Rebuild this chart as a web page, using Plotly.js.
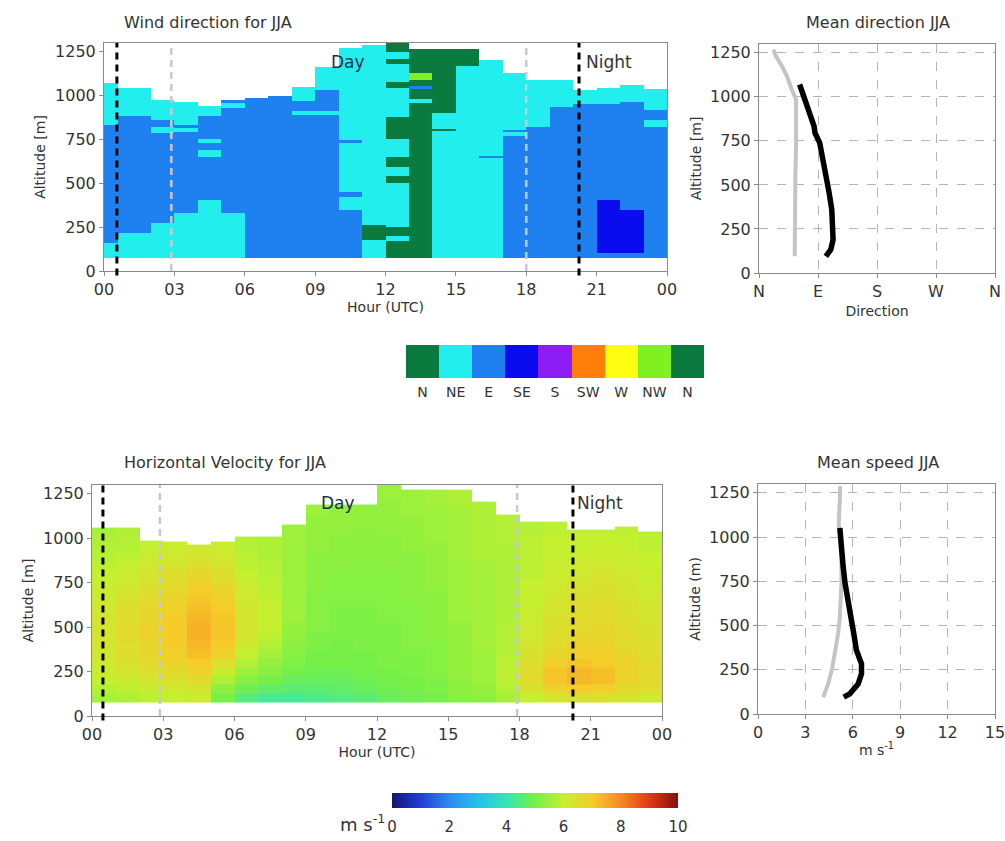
<!DOCTYPE html>
<html><head><meta charset="utf-8">
<script src="https://cdn.plot.ly/plotly-3.0.1.min.js"></script>
<style>html,body{margin:0;padding:0;background:#fff}</style>
</head><body><div id="chart" style="width:1005px;height:841px"></div>
<script>
// ---------- Wind direction categories ----------
const dirNames = ['N','NE','E','SE','S','SW','W','NW','N'];
const dirColors = ['#0b7a3e','#22eeee','#1f80f0','#0a0cf0','#8c1cf2','#ff7f0a','#ffff14','#80f020','#0b7a3e'];

// hour bins of the direction panel
const dirHourEdges = [0,0.6,2,3,4,5,6,7,8,9,10,11,12,13,14,15,16,17,18,19,20,21,22,23,24];
// per hour bin: [bottom altitude, top altitude, direction class]
const dirSegments = [
 [[75,160,'NE'],[160,833,'E'],[833,1071,'NE']],
 [[75,217,'NE'],[217,881,'E'],[881,1043,'NE']],
 [[75,274,'NE'],[274,786,'E'],[786,822,'NE'],[822,862,'E'],[862,976,'NE']],
 [[75,331,'NE'],[331,790,'E'],[790,815,'NE'],[815,835,'E'],[835,966,'NE']],
 [[75,405,'NE'],[405,650,'E'],[650,690,'NE'],[690,730,'E'],[730,750,'NE'],[750,881,'E'],[881,938,'NE']],
 [[75,331,'NE'],[331,930,'E'],[930,960,'NE'],[960,976,'E']],
 [[75,986,'E']],
 [[75,999,'E']],
 [[75,890,'E'],[890,915,'NE'],[915,970,'E'],[970,1052,'NE']],
 [[75,890,'E'],[890,915,'NE'],[915,1033,'E'],[1033,1166,'NE']],
 [[75,350,'E'],[350,420,'NE'],[420,450,'E'],[450,730,'NE'],[730,745,'E'],[745,1273,'NE']],
 [[75,177,'NE'],[177,263,'N'],[263,1290,'NE']],
 [[75,170,'N'],[170,200,'NE'],[200,250,'N'],[250,500,'NE'],[500,540,'N'],[540,595,'NE'],[595,650,'N'],[650,750,'NE'],[750,880,'N'],[880,1045,'NE'],[1045,1080,'N'],[1080,1180,'NE'],[1180,1210,'N'],[1210,1250,'NE'],[1250,1300,'N']],
 [[75,960,'N'],[960,980,'NE'],[980,1040,'N'],[1040,1055,'E'],[1055,1090,'N'],[1090,1128,'NW'],[1128,1265,'N']],
 [[75,798,'NE'],[798,810,'N'],[810,900,'NE'],[900,1265,'N']],
 [[75,1170,'NE'],[1170,1265,'N']],
 [[75,645,'NE'],[645,658,'E'],[658,1204,'NE']],
 [[75,770,'E'],[770,790,'NE'],[790,805,'E'],[805,1128,'NE']],
 [[75,822,'E'],[822,1090,'NE']],
 [[75,936,'E'],[936,1090,'NE']],
 [[75,950,'E'],[950,1033,'NE']],
 [[75,100,'E'],[100,405,'SE'],[405,950,'E'],[950,1043,'NE']],
 [[75,100,'E'],[100,348,'SE'],[348,965,'E'],[965,1060,'NE']],
 [[75,820,'E'],[820,860,'NE'],[860,920,'E'],[920,1040,'NE']]
];

// ---------- Horizontal velocity ----------
const speedHourEdges = [0,1,2,3,4,5,6,7,8,9,10,11,12,13,14,15,16,17,18,19,20,21,22,23,24];
const speedRowEdges = [75,125,175,225,275,325,375,425,475,525,575,625,675,725,775,825,875,925,975,1025,1075,1125,1175,1225,1275,1325];
const speedTop = [1058,1058,985,980,963,980,1009,1009,1075,1188,1188,1188,1300,1272,1272,1272,1206,1132,1094,1094,1047,1047,1066,1038];
// profile per hour, from the lowest 50 m row upward (m/s)
const speedProfiles = [
 [5.6,5.8,6.0,6.1,6.2,6.2,6.3,6.3,6.3,6.3,6.2,6.2,6.1,6.0,6.0,5.9,5.8,5.8,5.7,5.6],
 [5.7,5.9,6.1,6.3,6.4,6.5,6.5,6.6,6.6,6.5,6.5,6.4,6.3,6.2,6.1,6.0,5.9,5.8,5.8,5.7],
 [5.9,6.1,6.3,6.5,6.6,6.7,6.7,6.8,6.8,6.7,6.7,6.6,6.5,6.4,6.3,6.2,6.1,6.0,5.9],
 [6.0,6.2,6.4,6.6,6.8,6.9,7.0,7.0,7.0,7.0,6.9,6.8,6.7,6.6,6.5,6.3,6.2,6.1,6.0],
 [6.1,6.3,6.6,6.8,7.0,7.2,7.3,7.4,7.4,7.3,7.2,7.1,7.0,6.8,6.7,6.5,6.3,6.2],
 [5.0,5.3,5.7,6.1,6.5,6.8,7.0,7.1,7.1,7.1,7.0,6.9,6.8,6.6,6.5,6.3,6.2,6.1,6.0],
 [4.5,4.9,5.2,5.5,5.8,6.0,6.2,6.3,6.3,6.3,6.3,6.2,6.2,6.1,6.0,5.9,5.9,5.8,5.8],
 [4.3,4.7,5.0,5.2,5.4,5.6,5.8,5.9,6.0,6.0,6.0,6.0,5.9,5.9,5.8,5.8,5.7,5.7,5.7],
 [4.3,4.6,4.8,5.0,5.1,5.2,5.3,5.4,5.4,5.5,5.5,5.5,5.5,5.5,5.5,5.5,5.5,5.5,5.5,5.5],
 [4.4,4.6,4.8,4.9,5.0,5.0,5.1,5.1,5.2,5.2,5.2,5.2,5.2,5.3,5.3,5.3,5.3,5.4,5.4,5.4,5.4,5.5,5.5],
 [4.5,4.7,4.8,4.9,5.0,5.0,5.0,5.1,5.1,5.1,5.1,5.2,5.2,5.2,5.2,5.3,5.3,5.3,5.3,5.4,5.4,5.4,5.5],
 [4.6,4.8,4.9,5.0,5.0,5.0,5.1,5.1,5.1,5.1,5.1,5.2,5.2,5.2,5.2,5.2,5.3,5.3,5.3,5.3,5.4,5.4,5.4],
 [4.8,4.9,5.0,5.0,5.1,5.1,5.1,5.1,5.1,5.2,5.2,5.2,5.2,5.2,5.2,5.3,5.3,5.3,5.3,5.4,5.4,5.4,5.4,5.5,5.5],
 [4.9,5.0,5.0,5.1,5.1,5.1,5.2,5.2,5.2,5.2,5.2,5.2,5.3,5.3,5.3,5.3,5.3,5.4,5.4,5.4,5.4,5.5,5.5,5.5],
 [5.0,5.1,5.1,5.2,5.2,5.2,5.2,5.3,5.3,5.3,5.3,5.3,5.3,5.4,5.4,5.4,5.4,5.4,5.5,5.5,5.5,5.5,5.6,5.6],
 [5.2,5.3,5.3,5.4,5.4,5.4,5.4,5.4,5.4,5.5,5.5,5.5,5.5,5.5,5.5,5.5,5.6,5.6,5.6,5.6,5.6,5.6,5.7,5.7],
 [5.3,5.4,5.5,5.5,5.5,5.5,5.6,5.6,5.6,5.6,5.6,5.6,5.6,5.6,5.6,5.6,5.7,5.7,5.7,5.7,5.7,5.7,5.7],
 [5.6,5.8,5.9,5.9,5.9,5.8,5.8,5.8,5.8,5.7,5.7,5.7,5.7,5.7,5.7,5.7,5.7,5.7,5.8,5.8,5.8,5.8],
 [6.0,6.4,6.6,6.6,6.5,6.4,6.3,6.2,6.2,6.1,6.1,6.0,6.0,6.0,5.9,5.9,5.9,5.9,5.9,5.8,5.8],
 [6.3,6.8,7.1,7.1,6.9,6.7,6.6,6.5,6.4,6.4,6.3,6.3,6.2,6.2,6.1,6.1,6.0,6.0,6.0,5.9,5.9],
 [6.4,7.0,7.3,7.3,7.1,6.9,6.8,6.7,6.6,6.6,6.5,6.5,6.4,6.3,6.2,6.2,6.1,6.0,6.0,5.9],
 [6.4,6.9,7.2,7.2,7.0,6.9,6.8,6.7,6.7,6.6,6.6,6.5,6.4,6.4,6.3,6.2,6.1,6.1,6.0,5.9],
 [6.3,6.6,6.8,6.8,6.8,6.7,6.6,6.6,6.5,6.5,6.4,6.4,6.3,6.3,6.2,6.1,6.1,6.0,6.0,5.9],
 [6.2,6.5,6.6,6.6,6.6,6.5,6.5,6.4,6.4,6.3,6.3,6.2,6.2,6.1,6.1,6.0,6.0,5.9,5.9,5.8]
];
const speedColors = [[0,'#15156e'],[0.1,'#1f3fd8'],[0.2,'#2f8aee'],[0.3,'#22c2ec'],[0.4,'#34e6b4'],[0.5,'#76f048'],[0.6,'#c4f030'],[0.7,'#f6cc2a'],[0.8,'#f68a22'],[0.9,'#e03a14'],[1,'#841010']];

// ---------- Mean profiles ----------
const dirAltNight = [95,265,549,739,928,985,1042,1117,1174,1231,1269];
const dirNight    = [54.5,54.5,55.5,56.6,56.6,56.6,50,42.7,35,25.7,22];
const dirAltDay   = [95,133,189,265,360,455,549,644,739,795,833,890,947,1004,1061,1070];
const dirDay      = [102,109.5,113,113,111,107,102,96.7,92.6,85.4,84,78.7,73.5,68.4,63,62];
const spdAltNight = [95,170,265,360,455,549,739,928,1080,1212,1288];
const spdNight    = [4.12,4.44,4.71,4.9,5.07,5.18,5.28,5.28,5.11,5.18,5.2];
const spdAltDay   = [95,114,170,227,284,341,360,455,549,644,739,833,928,1023,1051];
const spdDay      = [5.43,5.81,6.34,6.55,6.55,6.34,6.23,6.06,5.87,5.7,5.51,5.39,5.32,5.24,5.18];

const hourTicks = [0,3,6,9,12,15,18,21,24];
const hourLabels = ['00','03','06','09','12','15','18','21','00'];
const altTicks = [0,250,500,750,1000,1250];
const dirTicks = [0,90,180,270,360];
const dirTickLabels = ['N','E','S','W','N'];
const spdTicks = [0,3,6,9,12,15];

// ---------- build grids ----------
const codeIndex = {N:0,NE:1,E:2,SE:3,S:4,SW:5,W:6,NW:7};
const eSet = new Set();
dirSegments.forEach(c => c.forEach(s => { eSet.add(s[0]); eSet.add(s[1]); }));
const dirYEdges = [...eSet].sort((a,b)=>a-b);
const dirZ = [];
for (let j=0;j<dirYEdges.length-1;j++){
  const mid=(dirYEdges[j]+dirYEdges[j+1])/2;
  dirZ.push(dirSegments.map(c=>{const s=c.find(s=>mid>=s[0]&&mid<s[1]);return s?codeIndex[s[2]]:null;}));
}
const dirScale=[];
dirColors.forEach((c,i)=>{dirScale.push([i/9,c]);dirScale.push([(i+1)/9,c]);});

const sSet = new Set(speedRowEdges); speedTop.forEach(t=>sSet.add(t));
const spdYEdges=[...sSet].filter(v=>v<=1325).sort((a,b)=>a-b);
const spdZ=[];
for (let j=0;j<spdYEdges.length-1;j++){
  const mid=(spdYEdges[j]+spdYEdges[j+1])/2;
  const k=speedRowEdges.findIndex((e,i)=>i<speedRowEdges.length-1&&mid>=e&&mid<speedRowEdges[i+1]);
  spdZ.push(speedProfiles.map((p,i)=>(mid>speedTop[i]||k<0||p[k]===undefined)?null:p[k]));
}

const F='DejaVu Sans, Verdana, sans-serif';
const TXT='#333';
const W=1005,H=841;
const px=v=>v/W, py=v=>(H-v)/H;

const traces=[
 {type:'heatmap',x:dirHourEdges,y:dirYEdges,z:dirZ,xaxis:'x',yaxis:'y',colorscale:dirScale,zmin:-0.5,zmax:8.5,hoverinfo:'skip',
  colorbar:{orientation:'h',x:px(555),xanchor:'center',y:py(345),yanchor:'top',len:298/W,thickness:33,outlinewidth:0,
   tickvals:[0,1,2,3,4,5,6,7,8],ticktext:dirNames,ticks:'outside',ticklen:3,tickcolor:'rgba(0,0,0,0)',tickfont:{family:F,size:14,color:TXT},xpad:0,ypad:0}},
 {type:'scatter',mode:'lines',x:dirNight,y:dirAltNight,xaxis:'x3',yaxis:'y3',line:{color:'#c4c4c4',width:4},hoverinfo:'skip'},
 {type:'scatter',mode:'lines',x:dirDay,y:dirAltDay,xaxis:'x3',yaxis:'y3',line:{color:'#000',width:5.5},hoverinfo:'skip'},
 {type:'heatmap',x:speedHourEdges,y:spdYEdges,z:spdZ,xaxis:'x2',yaxis:'y2',colorscale:speedColors,zmin:0,zmax:10,hoverinfo:'skip',
  colorbar:{orientation:'h',x:px(535),xanchor:'center',y:py(793),yanchor:'top',len:286/W,thickness:15,outlinewidth:0,
   tickvals:[0,2,4,6,8,10],ticks:'outside',ticklen:6,tickcolor:'rgba(0,0,0,0)',tickfont:{family:F,size:15,color:TXT},xpad:0,ypad:0}},
 {type:'scatter',mode:'lines',x:spdNight,y:spdAltNight,xaxis:'x4',yaxis:'y4',line:{color:'#c4c4c4',width:4},hoverinfo:'skip'},
 {type:'scatter',mode:'lines',x:spdDay,y:spdAltDay,xaxis:'x4',yaxis:'y4',line:{color:'#000',width:5.5},hoverinfo:'skip'}
];

const tf={family:F,size:16,color:TXT};
const af={family:F,size:14,color:TXT};
function ax(extra){return Object.assign({showline:true,mirror:true,linecolor:'#8a8a8a',linewidth:1,ticks:'outside',ticklen:4,tickcolor:'#8a8a8a',
  showgrid:false,zeroline:false,tickfont:tf,fixedrange:true},extra);}
const grid={showgrid:true,gridcolor:'#b4b4b4',griddash:'dash',gridwidth:1};

const layout={
 width:W,height:H,margin:{l:0,r:0,t:0,b:0},paper_bgcolor:'#fff',plot_bgcolor:'#fff',showlegend:false,
 font:{family:F,color:TXT},
 xaxis:ax({domain:[px(104),px(667)],range:[0,24],tickvals:hourTicks,ticktext:hourLabels,anchor:'y',title:{text:'Hour (UTC)',font:af,standoff:3}}),
 yaxis:ax({domain:[py(271),py(43)],range:[0,1300],tickvals:altTicks,anchor:'x',title:{text:'Altitude [m]',font:af,standoff:6}}),
 xaxis2:ax({domain:[px(92),px(662)],range:[0,24],tickvals:hourTicks,ticktext:hourLabels,anchor:'y2',title:{text:'Hour (UTC)',font:af,standoff:3}}),
 yaxis2:ax({domain:[py(716),py(485)],range:[0,1300],tickvals:altTicks,anchor:'x2',title:{text:'Altitude [m]',font:af,standoff:6}}),
 xaxis3:ax(Object.assign({domain:[px(759),px(995)],range:[0,360],tickvals:dirTicks,ticktext:dirTickLabels,anchor:'y3',ticklabeloverflow:'allow',title:{text:'Direction',font:af,standoff:5}},grid)),
 yaxis3:ax(Object.assign({domain:[py(273),py(44)],range:[0,1300],tickvals:altTicks,anchor:'x3',title:{text:'Altitude [m]',font:af,standoff:5}},grid)),
 xaxis4:ax(Object.assign({domain:[px(758),px(995)],range:[0,15],tickvals:spdTicks,anchor:'y4',ticklabeloverflow:'allow',title:{text:'m s<sup>-1</sup>',font:af,standoff:3}},grid)),
 yaxis4:ax(Object.assign({domain:[py(714),py(484)],range:[0,1300],tickvals:altTicks,anchor:'x4',title:{text:'Altitude (m)',font:af,standoff:5}},grid)),
 shapes:[
  {type:'line',xref:'x',yref:'y domain',x0:0.55,x1:0.55,y0:-0.02,y1:1,line:{color:'#000',width:3,dash:'7px,5px'}},
  {type:'line',xref:'x',yref:'y domain',x0:20.25,x1:20.25,y0:-0.02,y1:1,line:{color:'#000',width:3,dash:'7px,5px'}},
  {type:'line',xref:'x',yref:'y domain',x0:2.87,x1:2.87,y0:0,y1:1,line:{color:'#c8c8d0',width:2.5,dash:'7px,5px'}},
  {type:'line',xref:'x',yref:'y domain',x0:18,x1:18,y0:0,y1:1,line:{color:'#c8c8d0',width:2.5,dash:'7px,5px'}},
  {type:'line',xref:'x2',yref:'y2 domain',x0:0.46,x1:0.46,y0:-0.02,y1:1,line:{color:'#000',width:3,dash:'7px,5px'}},
  {type:'line',xref:'x2',yref:'y2 domain',x0:20.25,x1:20.25,y0:-0.02,y1:1,line:{color:'#000',width:3,dash:'7px,5px'}},
  {type:'line',xref:'x2',yref:'y2 domain',x0:2.86,x1:2.86,y0:0,y1:1,line:{color:'#c8c8d0',width:2.5,dash:'7px,5px'}},
  {type:'line',xref:'x2',yref:'y2 domain',x0:17.9,x1:17.9,y0:0,y1:1,line:{color:'#c8c8d0',width:2.5,dash:'7px,5px'}}
 ],
 annotations:[
  {xref:'paper',yref:'paper',x:px(122),y:py(22),xanchor:'left',yanchor:'middle',text:'Wind direction for JJA',showarrow:false,font:{family:F,size:16,color:TXT}},
  {xref:'paper',yref:'paper',x:px(878),y:py(22),xanchor:'center',yanchor:'middle',text:'Mean direction JJA',showarrow:false,font:{family:F,size:16,color:TXT}},
  {xref:'paper',yref:'paper',x:px(122),y:py(463),xanchor:'left',yanchor:'middle',text:'Horizontal Velocity for JJA',showarrow:false,font:{family:F,size:16,color:TXT}},
  {xref:'paper',yref:'paper',x:px(878),y:py(463),xanchor:'center',yanchor:'middle',text:'Mean speed JJA',showarrow:false,font:{family:F,size:16,color:TXT}},
  {xref:'x',yref:'y',x:10.4,y:1190,text:'Day',showarrow:false,font:{family:F,size:17,color:'#17324a'}},
  {xref:'x',yref:'y',x:20.45,y:1190,xanchor:'left',text:'Night',showarrow:false,font:{family:F,size:17,color:'#333'}},
  {xref:'x2',yref:'y2',x:10.36,y:1200,text:'Day',showarrow:false,font:{family:F,size:17,color:'#17324a'}},
  {xref:'x2',yref:'y2',x:20.35,y:1200,xanchor:'left',text:'Night',showarrow:false,font:{family:F,size:17,color:'#333'}},
  {xref:'paper',yref:'paper',x:px(387),y:py(823),xanchor:'right',yanchor:'middle',text:'m s<sup>-1</sup>',showarrow:false,font:{family:F,size:18,color:TXT}}
 ]
};
Plotly.newPlot('chart',traces,layout,{staticPlot:true,displayModeBar:false});
</script></body></html>
